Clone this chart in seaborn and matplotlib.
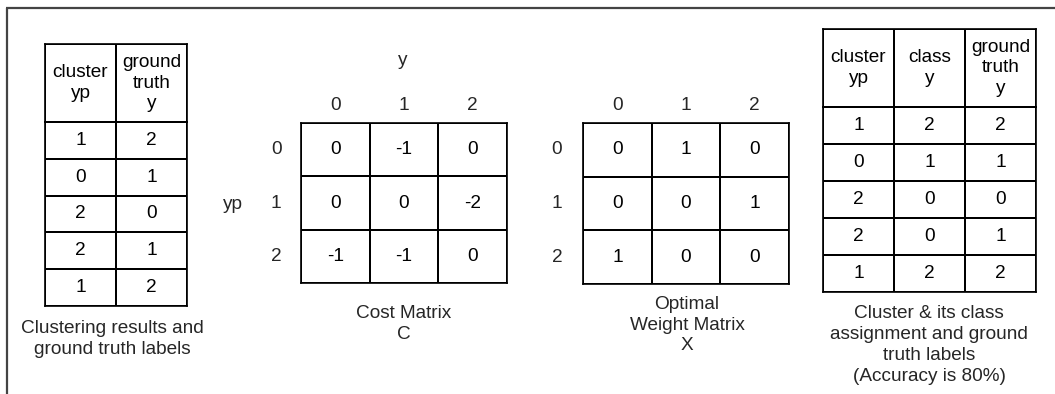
import numpy as np
import seaborn as sns
import matplotlib.pyplot as plt
from matplotlib.colors import ListedColormap

# data
cluster_yp = [1, 0, 2, 2, 1]
ground_truth_y = [2, 1, 0, 1, 2]
class_y = [2, 1, 0, 0, 2]
labels = [0, 1, 2]
cost_matrix = [[0, -1, 0],
               [0, 0, -2],
               [-1, -1, 0]]
weight_matrix = [[0, 1, 0],
                 [0, 0, 1],
                 [1, 0, 0]]
header1 = ['cluster\nyp', 'ground\ntruth\ny']
header2 = ['cluster\nyp', 'class\ny', 'ground\ntruth\ny']

sns.set_style('white')
plt.rcParams['font.family'] = ['Liberation Sans', 'DejaVu Sans']
FS = 13.7
LS = 1.3
W, H = 1055, 394
fig = plt.figure(figsize=(W / 100, H / 100), dpi=100)
white = ListedColormap(['white'])


def box(x0, y0, x1, y1):
    # axes from pixel box (top-left origin)
    return fig.add_axes([x0 / W, 1 - y1 / H, (x1 - x0) / W, (y1 - y0) / H])


def grid(ax, data, annot, fmt, xt=False, yt=False):
    sns.heatmap(np.asarray(data), ax=ax, cmap=white, cbar=False, annot=annot, fmt=fmt,
                linewidths=1.2, linecolor='black', xticklabels=xt, yticklabels=yt,
                annot_kws={'fontsize': FS, 'color': 'black', 'linespacing': LS})
    for s in ax.spines.values():
        s.set_visible(True)
        s.set_linewidth(1.2)
        s.set_color('black')


# background: frame + captions
bg = fig.add_axes([0, 0, 1, 1])
bg.set_xlim(0, W)
bg.set_ylim(H, 0)
bg.axis('off')
bg.plot([6.5, 6.5], [H, 8], color='#444444', lw=1.6, solid_capstyle='butt')
bg.plot([6, W], [8, 8], color='#444444', lw=1.6, solid_capstyle='butt')

# table 1
tab1 = np.array([cluster_yp, ground_truth_y]).T
grid(box(45, 44, 187, 122), np.zeros((1, 2)), np.array([header1]), '')
grid(box(45, 122, 187, 306), np.zeros_like(tab1), tab1, 'd')
bg.text(112, 339, 'Clustering results and\nground truth labels', ha='center', va='center',
        fontsize=FS, linespacing=LS)

# cost matrix
ax = box(301, 123, 507, 283)
grid(ax, cost_matrix, True, 'd', labels, labels)
ax.xaxis.tick_top()
ax.tick_params(axis='x', length=0, labelsize=FS, pad=6.5)
ax.tick_params(axis='y', length=0, labelsize=FS, pad=14, labelrotation=0)
bg.text(403, 60, 'y', ha='center', va='center', fontsize=FS)
bg.text(233, 204, 'yp', ha='center', va='center', fontsize=FS)
bg.text(404, 324, 'Cost Matrix\nC', ha='center', va='center', fontsize=FS, linespacing=LS)

# optimal weight matrix
ax = box(583, 123, 789, 284)
grid(ax, weight_matrix, True, 'd', labels, labels)
ax.xaxis.tick_top()
ax.tick_params(axis='x', length=0, labelsize=FS, pad=6.5)
ax.tick_params(axis='y', length=0, labelsize=FS, pad=15, labelrotation=0)
bg.text(687, 325, 'Optimal\nWeight Matrix\nX', ha='center', va='center', fontsize=FS,
        linespacing=LS)

# table 2
tab2 = np.array([cluster_yp, class_y, ground_truth_y]).T
grid(box(823, 29, 1036, 107), np.zeros((1, 3)), np.array([header2]), '')
grid(box(823, 107, 1036, 292), np.zeros_like(tab2), tab2, 'd')
bg.text(929, 345, 'Cluster & its class\nassignment and ground\ntruth labels\n(Accuracy is 80%)',
        ha='center', va='center', fontsize=FS, linespacing=LS)

fig.savefig('out.png', dpi=100)
